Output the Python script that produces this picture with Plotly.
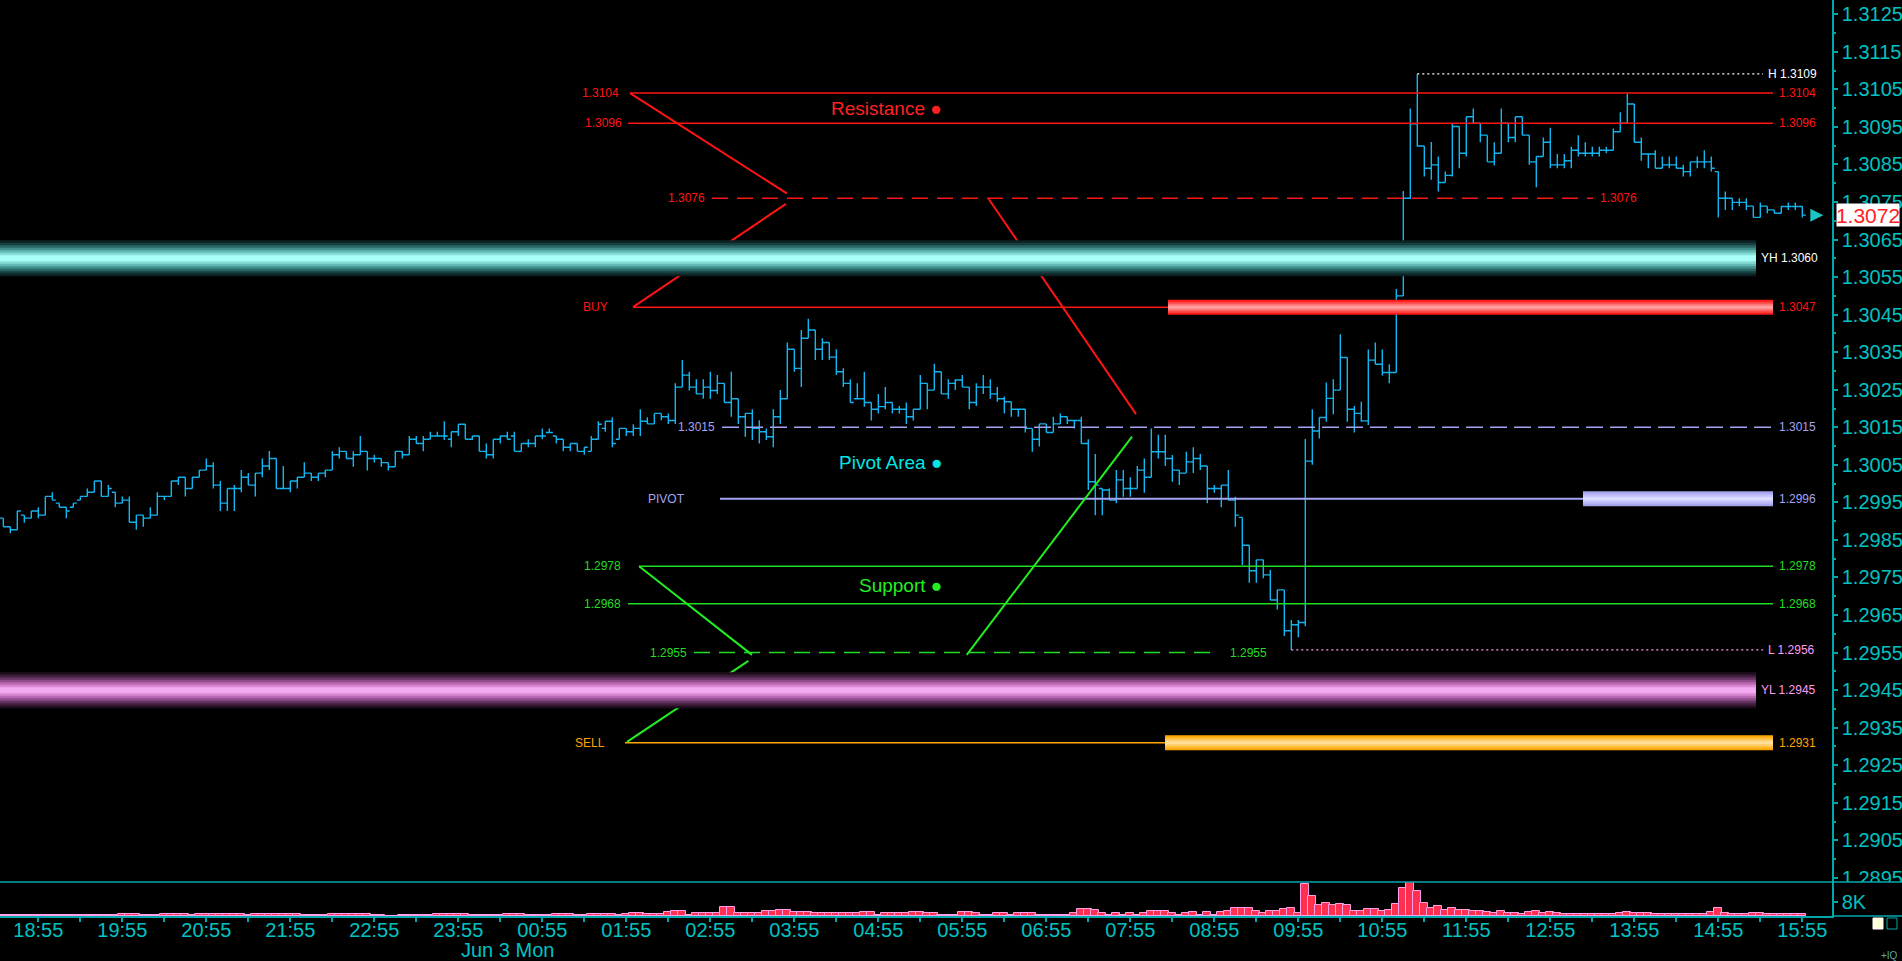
import pandas as pd
import plotly.graph_objects as go

# 5 minute EUR/USD style bars, Jun 2 18:30 -> Jun 3 15:55
opens = [
    1.29908, 1.29885, 1.29877, 1.29916, 1.29908, 1.29927, 1.29916, 1.29966, 1.29948, 1.29937,
    1.29937, 1.29956, 1.29966, 1.29977, 1.30007, 1.29966, 1.29977, 1.29948, 1.29956, 1.29897,
    1.29916, 1.29908, 1.29916, 1.29966, 1.29966, 1.30007, 1.30017, 1.29987, 1.30017, 1.30036,
    1.30047, 1.29996, 1.29948, 1.29987, 1.29987, 1.30017, 1.29996, 1.30028, 1.30047, 1.30067,
    1.29987, 1.29987, 1.30007, 1.30017, 1.30028, 1.30017, 1.30028, 1.30036, 1.30077, 1.30086,
    1.30067, 1.30077, 1.30086, 1.30067, 1.30067, 1.30056, 1.30045, 1.30086, 1.30077, 1.30118,
    1.30107, 1.30118, 1.30127, 1.30127, 1.30118, 1.30138, 1.30158, 1.30118, 1.30127, 1.30086,
    1.30077, 1.30118, 1.30127, 1.30127, 1.30086, 1.30107, 1.30107, 1.30127, 1.30136, 1.30127,
    1.30118, 1.30097, 1.30107, 1.30086, 1.30086, 1.30118, 1.30147, 1.30166, 1.30118, 1.30147,
    1.30138, 1.30147, 1.30166, 1.30159, 1.30187, 1.30178, 1.30168, 1.30257, 1.30289, 1.30257,
    1.30239, 1.30257, 1.30248, 1.30267, 1.30216, 1.30226, 1.30178, 1.30187, 1.30147, 1.30138,
    1.30125, 1.30178, 1.30226, 1.30358, 1.30307, 1.30387, 1.30409, 1.30358, 1.30376, 1.30337,
    1.30298, 1.30267, 1.30226, 1.30226, 1.30216, 1.30198, 1.30205, 1.30216, 1.30198, 1.30198,
    1.30178, 1.30198, 1.30267, 1.30249, 1.30298, 1.30239, 1.30267, 1.30276, 1.30257, 1.30216,
    1.30257, 1.30257, 1.30239, 1.30226, 1.30218, 1.30198, 1.30198, 1.30147, 1.30118, 1.30159,
    1.30136, 1.30159, 1.30178, 1.30168, 1.30168, 1.30107, 1.30005, 1.29987, 1.29983, 1.29956,
    1.30010, 1.29987, 1.29987, 1.30036, 1.30017, 1.30085, 1.30085, 1.30067, 1.30036, 1.30028,
    1.30058, 1.30067, 1.30047, 1.29987, 1.29987, 1.29996, 1.29956, 1.29910, 1.29836, 1.29768,
    1.29797, 1.29757, 1.29690, 1.29717, 1.29608, 1.29624, 1.29630, 1.30060, 1.30140, 1.30176,
    1.30227, 1.30249, 1.30336, 1.30198, 1.30187, 1.30167, 1.30329, 1.30318, 1.30296, 1.30296,
    1.30500, 1.30760, 1.30958, 1.30899, 1.30840, 1.30849, 1.30802, 1.30821, 1.30951, 1.30880,
    1.30977, 1.30960, 1.30928, 1.30857, 1.30880, 1.30960, 1.30922, 1.30977, 1.30928, 1.30857,
    1.30871, 1.30909, 1.30849, 1.30849, 1.30860, 1.30888, 1.30880, 1.30880, 1.30880, 1.30888,
    1.30888, 1.30937, 1.30960, 1.31011, 1.30909, 1.30878, 1.30878, 1.30840, 1.30849, 1.30849,
    1.30840, 1.30831, 1.30857, 1.30857, 1.30857, 1.30831, 1.30760, 1.30760, 1.30749, 1.30749,
    1.30739, 1.30709, 1.30739, 1.30729, 1.30720, 1.30738, 1.30738, 1.30738,
]
highs = [
    1.29908, 1.29885, 1.29927, 1.29916, 1.29927, 1.29937, 1.29966, 1.29977, 1.29948, 1.29937,
    1.29948, 1.29966, 1.29987, 1.30007, 1.30007, 1.29996, 1.29977, 1.29966, 1.29966, 1.29916,
    1.29916, 1.29937, 1.29977, 1.29966, 1.30007, 1.30017, 1.30017, 1.30017, 1.30036, 1.30067,
    1.30057, 1.30007, 1.29987, 1.29996, 1.30036, 1.30028, 1.30028, 1.30067, 1.30087, 1.30067,
    1.30047, 1.30007, 1.30017, 1.30057, 1.30028, 1.30028, 1.30036, 1.30086, 1.30097, 1.30086,
    1.30086, 1.30127, 1.30086, 1.30077, 1.30067, 1.30056, 1.30086, 1.30086, 1.30127, 1.30127,
    1.30127, 1.30138, 1.30138, 1.30166, 1.30138, 1.30158, 1.30158, 1.30127, 1.30127, 1.30107,
    1.30118, 1.30127, 1.30138, 1.30138, 1.30107, 1.30118, 1.30127, 1.30147, 1.30147, 1.30127,
    1.30118, 1.30107, 1.30107, 1.30097, 1.30127, 1.30166, 1.30166, 1.30177, 1.30147, 1.30147,
    1.30158, 1.30198, 1.30177, 1.30187, 1.30187, 1.30187, 1.30267, 1.30329, 1.30298, 1.30278,
    1.30278, 1.30298, 1.30289, 1.30267, 1.30298, 1.30226, 1.30187, 1.30198, 1.30169, 1.30147,
    1.30198, 1.30249, 1.30376, 1.30358, 1.30409, 1.30439, 1.30409, 1.30387, 1.30376, 1.30358,
    1.30307, 1.30278, 1.30267, 1.30298, 1.30216, 1.30239, 1.30257, 1.30216, 1.30207, 1.30216,
    1.30198, 1.30289, 1.30267, 1.30319, 1.30298, 1.30278, 1.30278, 1.30289, 1.30257, 1.30267,
    1.30289, 1.30278, 1.30257, 1.30232, 1.30218, 1.30198, 1.30198, 1.30147, 1.30159, 1.30159,
    1.30178, 1.30187, 1.30178, 1.30168, 1.30178, 1.30118, 1.30079, 1.29987, 1.29987, 1.30036,
    1.30036, 1.30017, 1.30047, 1.30067, 1.30147, 1.30130, 1.30130, 1.30076, 1.30036, 1.30085,
    1.30097, 1.30079, 1.30047, 1.29996, 1.29996, 1.30036, 1.29965, 1.29910, 1.29836, 1.29797,
    1.29797, 1.29770, 1.29717, 1.29717, 1.29637, 1.29637, 1.30119, 1.30198, 1.30176, 1.30269,
    1.30278, 1.30398, 1.30336, 1.30207, 1.30218, 1.30357, 1.30376, 1.30357, 1.30318, 1.30518,
    1.30779, 1.30999, 1.31091, 1.30899, 1.30910, 1.30871, 1.30831, 1.30958, 1.30951, 1.30977,
    1.30999, 1.30960, 1.30928, 1.30909, 1.30999, 1.30960, 1.30977, 1.30977, 1.30928, 1.30871,
    1.30922, 1.30948, 1.30878, 1.30878, 1.30897, 1.30928, 1.30909, 1.30897, 1.30897, 1.30897,
    1.30946, 1.30989, 1.31039, 1.31011, 1.30922, 1.30878, 1.30888, 1.30871, 1.30871, 1.30871,
    1.30849, 1.30857, 1.30871, 1.30888, 1.30871, 1.30831, 1.30778, 1.30760, 1.30760, 1.30760,
    1.30739, 1.30749, 1.30739, 1.30729, 1.30739, 1.30749, 1.30749, 1.30739,
]
lows = [
    1.29885, 1.29868, 1.29877, 1.29896, 1.29908, 1.29908, 1.29916, 1.29956, 1.29937, 1.29908,
    1.29937, 1.29956, 1.29966, 1.29977, 1.29966, 1.29966, 1.29937, 1.29948, 1.29897, 1.29877,
    1.29885, 1.29908, 1.29916, 1.29956, 1.29966, 1.29996, 1.29966, 1.29987, 1.30017, 1.30036,
    1.29987, 1.29927, 1.29927, 1.29927, 1.29977, 1.29996, 1.29966, 1.30017, 1.30036, 1.29987,
    1.29987, 1.29977, 1.29987, 1.30017, 1.30007, 1.30007, 1.30017, 1.30036, 1.30067, 1.30067,
    1.30045, 1.30077, 1.30035, 1.30056, 1.30045, 1.30035, 1.30045, 1.30067, 1.30077, 1.30107,
    1.30086, 1.30118, 1.30127, 1.30116, 1.30097, 1.30127, 1.30118, 1.30116, 1.30086, 1.30067,
    1.30067, 1.30107, 1.30118, 1.30086, 1.30086, 1.30097, 1.30097, 1.30118, 1.30136, 1.30107,
    1.30086, 1.30086, 1.30086, 1.30077, 1.30086, 1.30118, 1.30138, 1.30097, 1.30118, 1.30127,
    1.30127, 1.30127, 1.30159, 1.30159, 1.30169, 1.30159, 1.30159, 1.30257, 1.30248, 1.30239,
    1.30226, 1.30226, 1.30239, 1.30216, 1.30178, 1.30159, 1.30125, 1.30116, 1.30107, 1.30116,
    1.30097, 1.30159, 1.30226, 1.30298, 1.30257, 1.30387, 1.30329, 1.30329, 1.30329, 1.30289,
    1.30257, 1.30216, 1.30226, 1.30205, 1.30168, 1.30187, 1.30198, 1.30187, 1.30187, 1.30159,
    1.30168, 1.30198, 1.30198, 1.30249, 1.30239, 1.30226, 1.30249, 1.30257, 1.30198, 1.30207,
    1.30239, 1.30226, 1.30218, 1.30187, 1.30178, 1.30178, 1.30136, 1.30085, 1.30099, 1.30136,
    1.30136, 1.30159, 1.30159, 1.30147, 1.30107, 1.29983, 1.29916, 1.29916, 1.29956, 1.29948,
    1.29965, 1.29965, 1.29987, 1.29976, 1.30017, 1.30067, 1.30047, 1.30005, 1.29996, 1.30028,
    1.30028, 1.30036, 1.29948, 1.29976, 1.29937, 1.29956, 1.29885, 1.29783, 1.29736, 1.29736,
    1.29748, 1.29690, 1.29665, 1.29594, 1.29557, 1.29591, 1.29620, 1.30050, 1.30120, 1.30165,
    1.30185, 1.30249, 1.30165, 1.30136, 1.30165, 1.30156, 1.30318, 1.30288, 1.30267, 1.30296,
    1.30500, 1.30758, 1.30897, 1.30818, 1.30809, 1.30778, 1.30802, 1.30818, 1.30840, 1.30871,
    1.30960, 1.30909, 1.30857, 1.30847, 1.30880, 1.30909, 1.30909, 1.30928, 1.30849, 1.30789,
    1.30871, 1.30840, 1.30840, 1.30840, 1.30840, 1.30871, 1.30871, 1.30871, 1.30871, 1.30880,
    1.30888, 1.30937, 1.30960, 1.30909, 1.30860, 1.30840, 1.30840, 1.30840, 1.30840, 1.30840,
    1.30818, 1.30818, 1.30840, 1.30840, 1.30831, 1.30709, 1.30729, 1.30729, 1.30739, 1.30729,
    1.30709, 1.30709, 1.30720, 1.30720, 1.30720, 1.30729, 1.30729, 1.30709,
]
closes = [
    1.29885, 1.29877, 1.29927, 1.29908, 1.29927, 1.29916, 1.29966, 1.29956, 1.29937, 1.29927,
    1.29948, 1.29966, 1.29977, 1.30007, 1.29966, 1.29987, 1.29948, 1.29956, 1.29897, 1.29916,
    1.29908, 1.29916, 1.29966, 1.29966, 1.30007, 1.30017, 1.29987, 1.30017, 1.30036, 1.30047,
    1.29996, 1.29948, 1.29987, 1.29987, 1.30017, 1.29996, 1.30028, 1.30047, 1.30067, 1.29987,
    1.29987, 1.30007, 1.30017, 1.30028, 1.30017, 1.30028, 1.30036, 1.30077, 1.30086, 1.30067,
    1.30077, 1.30086, 1.30067, 1.30067, 1.30056, 1.30045, 1.30086, 1.30077, 1.30118, 1.30107,
    1.30118, 1.30127, 1.30127, 1.30127, 1.30138, 1.30158, 1.30118, 1.30127, 1.30086, 1.30077,
    1.30118, 1.30127, 1.30118, 1.30086, 1.30107, 1.30107, 1.30127, 1.30127, 1.30136, 1.30118,
    1.30097, 1.30107, 1.30086, 1.30097, 1.30118, 1.30158, 1.30166, 1.30107, 1.30147, 1.30138,
    1.30147, 1.30166, 1.30159, 1.30187, 1.30178, 1.30168, 1.30257, 1.30289, 1.30257, 1.30239,
    1.30257, 1.30248, 1.30267, 1.30216, 1.30226, 1.30178, 1.30187, 1.30147, 1.30138, 1.30125,
    1.30178, 1.30226, 1.30358, 1.30307, 1.30387, 1.30409, 1.30358, 1.30376, 1.30337, 1.30298,
    1.30267, 1.30216, 1.30226, 1.30216, 1.30198, 1.30205, 1.30216, 1.30198, 1.30198, 1.30178,
    1.30198, 1.30267, 1.30249, 1.30298, 1.30239, 1.30267, 1.30276, 1.30257, 1.30216, 1.30257,
    1.30257, 1.30239, 1.30226, 1.30218, 1.30198, 1.30198, 1.30147, 1.30118, 1.30159, 1.30136,
    1.30159, 1.30178, 1.30168, 1.30168, 1.30107, 1.30005, 1.29996, 1.29983, 1.29956, 1.30010,
    1.29987, 1.29987, 1.30036, 1.30017, 1.30085, 1.30085, 1.30067, 1.30036, 1.30028, 1.30058,
    1.30067, 1.30047, 1.29987, 1.29987, 1.29996, 1.29956, 1.29916, 1.29836, 1.29768, 1.29797,
    1.29757, 1.29690, 1.29717, 1.29608, 1.29624, 1.29630, 1.30060, 1.30140, 1.30176, 1.30227,
    1.30249, 1.30336, 1.30198, 1.30187, 1.30167, 1.30329, 1.30318, 1.30296, 1.30296, 1.30500,
    1.30760, 1.30958, 1.30899, 1.30840, 1.30849, 1.30802, 1.30821, 1.30951, 1.30880, 1.30977,
    1.30960, 1.30928, 1.30857, 1.30880, 1.30960, 1.30922, 1.30977, 1.30928, 1.30857, 1.30871,
    1.30909, 1.30849, 1.30849, 1.30860, 1.30888, 1.30880, 1.30880, 1.30880, 1.30888, 1.30888,
    1.30937, 1.30960, 1.31011, 1.30909, 1.30878, 1.30878, 1.30840, 1.30849, 1.30849, 1.30840,
    1.30831, 1.30857, 1.30857, 1.30857, 1.30840, 1.30760, 1.30760, 1.30749, 1.30749, 1.30739,
    1.30709, 1.30739, 1.30729, 1.30720, 1.30738, 1.30738, 1.30738, 1.30715,
]
# volume in thousands
volumes_k = [
    0.5, 0.6, 0.6, 0.6, 0.6, 0.6, 0.6, 0.6, 0.6, 0.6,
    0.6, 0.6, 0.6, 0.6, 0.6, 0.6, 0.6, 1.2, 1.2, 1.2,
    0.6, 0.6, 0.6, 1.2, 1.2, 1.2, 1.2, 0.6, 1.2, 1.2,
    1.2, 1.2, 1.2, 1.2, 1.2, 0.6, 1.2, 1.2, 1.2, 1.2,
    1.2, 1.2, 1.2, 0.6, 0.6, 0.6, 0.6, 1.2, 1.2, 1.2,
    1.2, 1.2, 1.2, 0.6, 0.6, 0.2, 0.2, 0.6, 0.6, 0.6,
    0.6, 0.6, 1.2, 1.2, 1.2, 1.2, 1.2, 0.6, 0.6, 0.6,
    0.6, 0.6, 1.2, 1.2, 1.2, 0.6, 0.6, 0.6, 0.6, 1.2,
    1.2, 1.2, 0.6, 0.6, 1.2, 1.0, 1.0, 1.0, 0.6, 1.0,
    1.5, 1.5, 1.0, 1.0, 1.0, 2.1, 2.7, 2.7, 0.6, 1.5,
    1.5, 1.5, 1.5, 5.0, 5.0, 1.5, 1.5, 1.5, 1.5, 2.7,
    2.7, 3.2, 3.2, 2.1, 2.1, 2.1, 1.5, 1.5, 1.5, 1.5,
    1.5, 1.5, 1.5, 2.1, 2.1, 0.6, 1.5, 1.5, 1.5, 1.5,
    2.1, 2.1, 1.5, 1.5, 0.6, 0.6, 0.6, 2.1, 2.1, 1.5,
    0.6, 0.6, 1.5, 1.5, 0.6, 1.5, 1.5, 1.5, 0.6, 0.6,
    0.6, 0.6, 0.6, 1.5, 3.8, 3.8, 3.2, 1.5, 0.6, 1.5,
    0.6, 1.5, 0.6, 1.5, 2.7, 2.7, 2.7, 1.5, 0.6, 1.5,
    2.1, 0.6, 2.1, 0.6, 2.1, 2.7, 4.4, 4.4, 4.4, 2.7,
    1.9, 2.7, 2.7, 3.8, 4.4, 1.5, 18.3, 11.4, 6.3, 7.4,
    6.3, 6.9, 6.3, 2.7, 2.7, 3.8, 3.8, 2.7, 3.4, 6.9,
    15.8, 19.2, 14.3, 7.4, 4.4, 5.7, 3.4, 4.4, 3.4, 3.4,
    2.7, 2.7, 2.1, 1.5, 2.7, 1.5, 1.5, 1.0, 2.1, 2.7,
    1.5, 2.1, 1.5, 1.0, 1.0, 1.0, 1.0, 1.0, 1.0, 1.0,
    1.0, 1.5, 2.1, 1.5, 1.5, 1.5, 1.0, 1.0, 1.0, 1.0,
    1.0, 1.0, 1.0, 1.0, 2.1, 4.4, 1.5, 1.0, 1.0, 1.0,
    1.5, 1.5, 1.0, 1.0, 1.0, 1.0, 1.0, 1.0,
]

hour_labels = ["18:55", "19:55", "20:55", "21:55", "22:55", "23:55", "00:55", "01:55",
               "02:55", "03:55", "04:55", "05:55", "06:55", "07:55", "08:55", "09:55",
               "10:55", "11:55", "12:55", "13:55", "14:55", "15:55"]
day_label = "Jun 3 Mon"
last_label = "1.3072"

# drawn levels: price, start, end, left tag
level_prices = [1.3104, 1.3096, 1.3076, 1.3047, 1.3015, 1.2996, 1.2978, 1.2968, 1.2955, 1.2931]
level_starts = ["2013-06-03 01:57:38", "2013-06-03 01:56:13", "2013-06-03 02:56:13",
                "2013-06-03 01:59:47", "2013-06-03 03:03:22", "2013-06-03 03:01:56",
                "2013-06-03 02:04:06", "2013-06-03 01:56:13", "2013-06-03 02:43:22",
                "2013-06-03 01:54:04"]
level_ends = ["2013-06-03 15:34:04", "2013-06-03 15:34:04", "2013-06-03 13:25:30",
              "2013-06-03 15:34:04", "2013-06-03 15:34:04", "2013-06-03 15:34:04",
              "2013-06-03 15:34:04", "2013-06-03 15:34:04", "2013-06-03 08:58:25",
              "2013-06-03 15:34:04"]
level_tags = ["1.3104", "1.3096", "1.3076", "BUY", "1.3015", "PIVOT", "1.2978", "1.2968", "1.2955", "SELL"]

# zones (glowing bars)
yest_high = 1.3060
yest_low = 1.2945
buy_zone_start = "2013-06-03 08:21:56"
sell_zone_start = "2013-06-03 08:19:47"
pivot_zone_start = "2013-06-03 13:18:22"
zone_end = "2013-06-03 15:34:04"
yest_start = "2013-06-02 18:00"
yest_end = "2013-06-03 15:21:56"
hl_end = "2013-06-03 15:27:00"

# trend strokes: (time0, price0) -> (time1, price1)
diag_times = [
    ["2013-06-03 01:57:38", "2013-06-03 03:49:36"],
    ["2013-06-03 03:49:00", "2013-06-03 01:59:47"],
    ["2013-06-03 06:13:50", "2013-06-03 07:59:04"],
    ["2013-06-03 02:04:06", "2013-06-03 03:24:47"],
    ["2013-06-03 03:22:13", "2013-06-03 01:55:30"],
    ["2013-06-03 05:58:09", "2013-06-03 07:56:13"],
]
diag_prices = [
    [1.3104, 1.30773],
    [1.30745, 1.3047],
    [1.30758, 1.30185],
    [1.2978, 1.29544],
    [1.29528, 1.29312],
    [1.29544, 1.30125],
]

# zone captions
zone_texts = ["Resistance ●", "Pivot Area ●", "Support ●"]
zone_text_prices = [1.3100, 1.30055, 1.2973]

# ---------------------------------------------------------------- styling
FONT = "Liberation Sans, Arial, sans-serif"
W, H = 1902, 961
TEAL = "#00c2c2"
AXIS = "#00a8ac"
BLUE = "#12b6f2"
RED = "#ff1414"
GREEN = "#22dd22"
LAV = "#a4a4f4"
ORANGE = "#ffa500"
PINK = "#ff9cf4"

X_END = 1832 / W
MAIN_BOTTOM = (H - 882) / H
VOL_BOTTOM = (H - 916) / H

level_colors = [RED, RED, RED, RED, LAV, LAV, GREEN, GREEN, GREEN, ORANGE]
level_dash = ["solid", "solid", "16px,9px", "solid", "17px,7px", "solid",
              "solid", "solid", "16px,9px", "solid"]
level_width = [1.5, 1.5, 1.5, 1.5, 1.5, 2, 1.5, 1.5, 1.5, 1.5]
left_tag_px = [621, 624, 707, 610, 717, 687, 623, 623, 689, 607]
diag_colors = [RED, RED, RED, "#22ee22", "#22ee22", "#22ee22"]
zone_text_colors = ["#ff2020", "#00e6e6", "#22ee22"]

times = pd.date_range("2013-06-02 18:30", periods=len(closes), freq="5min")

fig = go.Figure()


def hline(x0, x1, y, color, width, dash="solid"):
    fig.add_trace(go.Scatter(x=[x0, x1], y=[y, y], mode="lines",
                             line=dict(color=color, width=width, dash=dash),
                             hoverinfo="skip", showlegend=False))


def band(x0, x1, y, widths, colors):
    for w, c in zip(widths, colors):
        hline(x0, x1, y, c, w)


# level lines
for i, p in enumerate(level_prices):
    hline(level_starts[i], level_ends[i], p, level_colors[i], level_width[i], level_dash[i])

# session high / low dotted lines
hi = max(highs)
lo = min(lows)
hline(times[highs.index(hi)], hl_end, hi, "#ffffff", 1.2, "2px,3px")
hline(times[lows.index(lo)], hl_end, lo, PINK, 1.2, "2px,3px")

# diagonals
for t, p, c in zip(diag_times, diag_prices, diag_colors):
    fig.add_trace(go.Scatter(x=t, y=p, mode="lines", line=dict(color=c, width=2),
                             hoverinfo="skip", showlegend=False))

# price bars
fig.add_trace(go.Ohlc(
    x=times, open=opens, high=highs, low=lows, close=closes,
    increasing=dict(line=dict(color=BLUE)), decreasing=dict(line=dict(color=BLUE)),
    line=dict(width=1.4), tickwidth=0.5, hoverinfo="skip", showlegend=False,
))

# glowing zones
band(yest_start, yest_end, yest_high, [36, 31, 26, 21, 16, 11, 6],
     ["#0c2222", "#173e3e", "#2a6664", "#438f8c", "#62b9b5", "#86ddd8", "#a8fff8"])
band(yest_start, yest_end, yest_low, [36, 31, 26, 21, 16, 11, 6],
     ["#200e1f", "#3f1e3c", "#643262", "#904c8a", "#b868b2", "#da88d4", "#f4aaf0"])
band(buy_zone_start, zone_end, level_prices[3], [15, 11, 7, 3],
     ["#ff1a1a", "#ff4848", "#ff7474", "#ffa0a0"])
band(sell_zone_start, zone_end, level_prices[9], [15, 11, 7, 3],
     ["#ffa800", "#ffbb38", "#ffcd68", "#ffe098"])
band(pivot_zone_start, zone_end, level_prices[5], [15, 11, 7, 3],
     ["#a2a2ec", "#b6b6f6", "#c8c8ff", "#dcdcff"])

# last price arrow
fig.add_trace(go.Scatter(x=[times[-1] + pd.Timedelta(minutes=15)], y=[closes[-1]],
                         mode="markers", marker=dict(symbol="arrow-right", size=13, color="#1cc4c4"),
                         hoverinfo="skip", showlegend=False))

# volume
fig.add_trace(go.Bar(x=times, y=volumes_k, yaxis="y2", width=5 * 60 * 1000 * 1.1,
                     marker=dict(color="#ff3050", line=dict(color="#ffa0e8", width=1)),
                     hoverinfo="skip", showlegend=False))

ann = []
small = dict(family=FONT, size=12)
for i, p in enumerate(level_prices):
    ann.append(dict(xref="paper", yref="y", x=left_tag_px[i] / W, y=p, xanchor="right",
                    yanchor="middle", text=level_tags[i], showarrow=False,
                    font=dict(small, color=level_colors[i])))

right_tags = [("1.3104", 1.3104, RED, 1777), ("1.3096", 1.3096, RED, 1777),
              ("1.3076", 1.3076, RED, 1598), ("1.3047", 1.3047, RED, 1777),
              ("1.3015", 1.3015, LAV, 1777), ("1.2996", 1.2996, LAV, 1777),
              ("1.2978", 1.2978, GREEN, 1777), ("1.2968", 1.2968, GREEN, 1777),
              ("1.2955", 1.2955, GREEN, 1228), ("1.2931", 1.2931, ORANGE, 1777),
              (f"H {hi:.4f}", hi, "#ffffff", 1766), (f"L {lo:.4f}", lo, PINK, 1766),
              (f"YH {yest_high:.4f}", yest_high, "#ffffff", 1759),
              (f"YL {yest_low:.4f}", yest_low, PINK, 1759)]
for txt, p, c, xp in right_tags:
    ann.append(dict(xref="paper", yref="y", x=xp / W, y=p, xanchor="left", yanchor="middle",
                    text=txt, showarrow=False, font=dict(small, color=c)))

for txt, p, c in zip(zone_texts, zone_text_prices, zone_text_colors):
    ann.append(dict(xref="paper", yref="y", x=944 / W, y=p, xanchor="right", yanchor="middle",
                    text=txt, showarrow=False, font=dict(family=FONT, size=19, color=c)))

ann.append(dict(xref="paper", yref="y", x=1836 / W, y=closes[-1], xanchor="left",
                yanchor="middle", text=last_label, showarrow=False, bgcolor="#ffffff",
                width=62, height=22, borderpad=0,
                font=dict(family=FONT, size=21, color="#ff2020")))
ann.append(dict(xref="paper", yref="paper", x=459 / W, y=(H - 950) / H, xanchor="left",
                yanchor="middle", text=day_label, showarrow=False,
                font=dict(family=FONT, size=20, color=TEAL)))
ann.append(dict(xref="paper", yref="paper", x=1889 / W, y=(H - 955) / H, xanchor="center",
                yanchor="middle", text="+IQ", showarrow=False,
                font=dict(family=FONT, size=10, color="#5aa8a8")))

shapes = [
    # hide the part of the lowest price label that runs into the volume pane
    dict(type="rect", xref="paper", yref="paper", x0=1834 / W, x1=1, y0=(H - 893) / H,
         y1=MAIN_BOTTOM, fillcolor="#000000", line=dict(width=0), layer="above"),
    dict(type="line", xref="paper", yref="paper", x0=0, x1=1, y0=MAIN_BOTTOM, y1=MAIN_BOTTOM,
         line=dict(color=AXIS, width=1.5), layer="above"),
    dict(type="line", xref="paper", yref="paper", x0=X_END, x1=1, y0=VOL_BOTTOM, y1=VOL_BOTTOM,
         line=dict(color=AXIS, width=1.5), layer="above"),
    dict(type="rect", xref="paper", yref="paper", x0=1873 / W, x1=1883 / W,
         y0=(H - 929) / H, y1=(H - 918) / H, fillcolor="#ffffd8", line=dict(color="#ffffff", width=1)),
    dict(type="rect", xref="paper", yref="paper", x0=1887 / W, x1=1897 / W,
         y0=(H - 929) / H, y1=(H - 918) / H, line=dict(color=AXIS, width=1)),
]

tick_times = pd.date_range("2013-06-02 18:55", periods=len(hour_labels), freq="60min")

fig.update_layout(
    template="none",
    width=W, height=H,
    margin=dict(l=0, r=0, t=0, b=0),
    paper_bgcolor="#000000", plot_bgcolor="#000000",
    showlegend=False,
    bargap=0,
    font=dict(family=FONT, color=TEAL),
    xaxis=dict(
        type="date", domain=[0, X_END], anchor="y2",
        range=["2013-06-02 18:27:38", "2013-06-03 16:16:13"],
        rangeslider=dict(visible=False),
        tickmode="array", tickvals=tick_times, ticktext=hour_labels,
        ticks="outside", ticklen=4, tickcolor=AXIS, tickwidth=1.5,
        ticklabelstandoff=-9,
        minor=dict(ticks="outside", ticklen=4, tickcolor=AXIS, dtick=30 * 60 * 1000,
                   tick0="2013-06-02 18:25", showgrid=False),
        tickfont=dict(family=FONT, size=20, color=TEAL),
        showline=True, linecolor=AXIS, linewidth=1.5,
        showgrid=False, zeroline=False, automargin=False,
    ),
    yaxis=dict(
        domain=[MAIN_BOTTOM, 1], anchor="x", side="right",
        range=[1.28939, 1.31288],
        tick0=1.2895, dtick=0.001, tickformat=".4f",
        ticks="outside", ticklen=4, tickcolor=AXIS, tickwidth=1.5,
        minor=dict(ticks="outside", ticklen=2, tickcolor=AXIS, dtick=0.0005,
                   tick0=1.2895, showgrid=False),
        tickfont=dict(family=FONT, size=20, color=TEAL),
        showline=True, linecolor=AXIS, linewidth=1.5,
        showgrid=False, zeroline=False, automargin=False,
    ),
    yaxis2=dict(
        domain=[VOL_BOTTOM, MAIN_BOTTOM], anchor="x", side="right",
        range=[0, 19.4], tickmode="array", tickvals=[8], ticktext=["8K"],
        ticks="outside", ticklen=4, tickcolor=AXIS, tickwidth=1.5,
        tickfont=dict(family=FONT, size=20, color=TEAL),
        showline=True, linecolor=AXIS, linewidth=1.5,
        showgrid=False, zeroline=False, automargin=False,
    ),
    annotations=ann,
    shapes=shapes,
)

# the page body has a default margin; drop it so the figure fills the window
fig.write_html("out.html", config={"displayModeBar": False},
               post_script="document.body.style.margin='0';document.body.style.overflow='hidden';")
